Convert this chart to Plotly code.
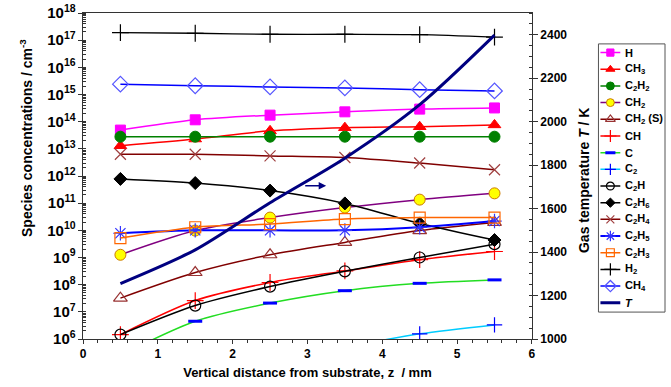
import plotly.graph_objects as go

z = [0.5, 1.5, 2.5, 3.5, 4.5, 5.5]

H = [4.9e13, 1.17e14, 1.74e14, 2.3e14, 2.9e14, 3.2e14]
CH3 = [1.3e13, 2.3e13, 4.6e13, 6.0e13, 6.5e13, 7.6e13]
C2H2 = [2.8e13, 2.8e13, 2.8e13, 2.8e13, 2.8e13, 2.8e13]
CH2 = [1.26e9, 9.8e9, 2.95e10, 6.9e10, 1.35e11, 2.3e11]
CH2S = [3.2e7, 2.8e8, 1.26e9, 3.6e9, 9.8e9, 1.95e10]
CH = [1.45e6, 2.6e7, 1.2e8, 3.2e8, 8.3e8, 1.66e9]
C = [2.5e5, 4.5e6, 2.1e7, 6.0e7, 1.12e8, 1.5e8]
C2 = [5e3, 3e4, 1.6e5, 5e5, 1.55e6, 3.3e6]
C2H = [1.45e6, 1.7e7, 8.5e7, 3.1e8, 1.0e9, 3.1e9]
C2H6 = [7.8e11, 5.5e11, 2.9e11, 9.8e10, 1.8e10, 4.4e9]
C2H4 = [6.3e12, 6.3e12, 5.5e12, 4.8e12, 3.0e12, 1.7e12]
C2H5 = [7.8e9, 1.0e10, 1.0e10, 1.0e10, 1.3e10, 2.2e10]
C2H3 = [5.2e9, 1.3e10, 1.7e10, 2.6e10, 2.95e10, 2.95e10]
H2 = [1.9e17, 1.8e17, 1.65e17, 1.65e17, 1.6e17, 1.3e17]
CH4 = [2.4e15, 2.1e15, 1.9e15, 1.75e15, 1.5e15, 1.35e15]
T = [1255, 1410, 1627, 1832, 2078, 2398]

FONT = "Arial, Liberation Sans, sans-serif"

# name, values, line color, line width, marker symbol, marker size, marker fill, marker line color
species = [
    ("H", H, "#ff00ff", 1.5, "square", 10, "#ff00ff", "#ff00ff"),
    ("CH<sub>3</sub>", CH3, "#ff0000", 1.5, "triangle-up", 11, "#ff0000", "#ff0000"),
    ("C<sub>2</sub>H<sub>2</sub>", C2H2, "#008000", 1.5, "circle", 11, "#008000", "#008000"),
    ("CH<sub>2</sub>", CH2, "#800080", 1.5, "circle", 11, "#ffff00", "#cc7a00"),
    ("CH<sub>2</sub> (S)", CH2S, "#800000", 1.5, "triangle-up-open", 12, "#993333", "#993333"),
    ("CH", CH, "#ff0000", 1.5, "cross-thin-open", 12, "#ff0000", "#ff0000"),
    ("C", C, "#22dd22", 1.5, "line-ew-open", 10, "#0000ff", "#0000ff"),
    ("C<sub>2</sub>", C2, "#00ccff", 1.5, "cross-thin-open", 11, "#0000ff", "#0000ff"),
    ("C<sub>2</sub>H", C2H, "#000000", 1.5, "circle-open", 11, "#000000", "#000000"),
    ("C<sub>2</sub>H<sub>6</sub>", C2H6, "#000000", 1.5, "diamond", 10, "#000000", "#000000"),
    ("C<sub>2</sub>H<sub>4</sub>", C2H4, "#800000", 1.5, "x-thin-open", 11, "#a04040", "#a04040"),
    ("C<sub>2</sub>H<sub>5</sub>", C2H5, "#0000ff", 2, "asterisk-open", 12, "#3333ff", "#3333ff"),
    ("C<sub>2</sub>H<sub>3</sub>", C2H3, "#ff6600", 1.5, "square-open", 11, "#ff6600", "#ff6600"),
    ("H<sub>2</sub>", H2, "#000000", 1.3, "cross-thin-open", 12, "#000000", "#000000"),
    ("CH<sub>4</sub>", CH4, "#0000ff", 1.5, "diamond-open", 12, "#5555ff", "#5555ff"),
]
T_NAME = "<i>T</i>"
T_COLOR = "#000080"

# layout in pixels
W, HGT = 671, 387
L, R, TOP, B = 83, 2, 12, 48
plot_right = 535
legend_box = (602, 669, 43, 312)  # x0, x1, y0(top), y1(bottom) in px
paper_w = W - L - R
paper_h = HGT - TOP - B


def px_x(p):
    return (p - L) / paper_w


def px_y(p):
    return (HGT - B - p) / paper_h


def mline(sym, open_sym):
    if sym.startswith("line"):
        return 3
    return 1.2 if open_sym else 1


fig = go.Figure()
for name, vals, lc, lw, sym, ms, mf, mlc in species:
    fig.add_trace(go.Scatter(
        x=z, y=vals, name=name, mode="lines+markers", showlegend=False,
        line=dict(color=lc, width=lw, shape="spline", smoothing=0.8),
        marker=dict(symbol=sym, size=ms, color=mf,
                    line=dict(color=mlc, width=mline(sym, sym.endswith("-open")))),
    ))

fig.add_trace(go.Scatter(
    x=z, y=T, name=T_NAME, mode="lines", yaxis="y2", showlegend=False,
    line=dict(color=T_COLOR, width=3, shape="spline", smoothing=0.8),
))

# ---- hand-drawn legend (compact, like the reference) ----
lx0, lx1, ly0, ly1 = legend_box
box_w = lx1 - lx0
box_h = ly1 - ly0
row_gap = 16.73
first_row = 8.7
key_x0, key_x1, text_x = 2, 22, 24.5

entries = [(s[0], s[2], s[3], s[4], s[5], s[6], s[7]) for s in species]
entries.append((T_NAME, T_COLOR, 3, None, 0, None, None))
for i, (name, lc, lw, sym, ms, mf, mlc) in enumerate(entries):
    row = first_row + row_gap * i
    fig.add_trace(go.Scatter(
        x=[key_x0, key_x1], y=[row, row], mode="lines", xaxis="x3", yaxis="y3",
        showlegend=False, hoverinfo="skip",
        line=dict(color=lc, width=lw if sym is None else max(lw, 1.5)),
    ))
    if sym is not None:
        fig.add_trace(go.Scatter(
            x=[(key_x0 + key_x1) / 2], y=[row], mode="markers", xaxis="x3", yaxis="y3",
            showlegend=False, hoverinfo="skip",
            marker=dict(symbol=sym, size=ms * 0.72, color=mf,
                        line=dict(color=mlc, width=mline(sym, sym.endswith("-open")))),
        ))
    fig.add_annotation(text=name, x=text_x, y=row, xref="x3", yref="y3",
                       xanchor="left", yanchor="middle", showarrow=False,
                       font=dict(size=11, family=FONT, color="black", weight="bold"))

fig.add_shape(type="rect", xref="x3 domain", yref="y3 domain", x0=0, x1=1, y0=0, y1=1,
              line=dict(color="#555", width=1), fillcolor="rgba(0,0,0,0)", layer="below")

fig.add_annotation(x=3.25, y=11.64, ax=2.95, ay=11.64, xref="x", yref="y",
                   axref="x", ayref="y", showarrow=True, arrowhead=2,
                   arrowsize=1, arrowwidth=1.5, arrowcolor=T_COLOR, text="")

fig.add_annotation(text="Species concentrations / cm<sup>-3</sup>", xref="paper", yref="paper",
                   x=px_x(25), y=px_y(137), textangle=-90, showarrow=False,
                   xanchor="center", yanchor="middle",
                   font=dict(size=14, family=FONT, color="black", weight="bold"))
fig.add_annotation(text="Gas temperature <i>T</i> / K", xref="paper", yref="paper",
                   x=px_x(588), y=px_y(180), textangle=-90, showarrow=False,
                   xanchor="center", yanchor="middle",
                   font=dict(size=14, family=FONT, color="black", weight="bold"))

axis_font = dict(size=12, family=FONT, color="black", weight="bold")

fig.update_layout(
    width=W, height=HGT,
    margin=dict(l=L, r=R, t=TOP, b=B),
    paper_bgcolor="white", plot_bgcolor="white",
    font=dict(family=FONT, color="black"),
    showlegend=False,
    xaxis=dict(domain=[0, px_x(plot_right)], range=[0, 6], dtick=1, tick0=0,
               showline=True, linecolor="#333", linewidth=1,
               mirror=True, ticks="outside", ticklen=4, tickcolor="#333",
               minor=dict(dtick=0.2, ticks="outside", ticklen=3, tickcolor="#333"),
               showgrid=False, zeroline=False, tickfont=axis_font,
               title=dict(text="Vertical distance from substrate, z  / mm", standoff=7,
                          font=dict(size=13, family=FONT, color="black", weight="bold"))),
    yaxis=dict(type="log", range=[6, 18], dtick=1, exponentformat="power",
               showline=True, linecolor="#333", linewidth=1, ticks="outside", ticklen=4,
               tickcolor="#333", minor=dict(dtick="D1", ticks="inside", ticklen=3, tickcolor="#333"),
               showgrid=False, zeroline=False,
               tickfont=dict(size=12, family=FONT, color="black", weight="bold")),
    yaxis2=dict(overlaying="y", side="right", anchor="x", range=[1000, 2500], tick0=1000, dtick=200,
                showline=True, linecolor="#333", linewidth=1, ticks="outside", ticklen=5,
                tickcolor="#333", minor=dict(dtick=50, ticks="inside", ticklen=3, tickcolor="#333"),
                showgrid=False, zeroline=False, tickfont=axis_font),
    xaxis3=dict(domain=[px_x(lx0), px_x(lx1)], range=[0, box_w], anchor="y3",
                visible=False, fixedrange=True),
    yaxis3=dict(domain=[px_y(ly1), px_y(ly0)], range=[box_h, 0], anchor="x3",
                visible=False, fixedrange=True),
)

fig.write_html("out.html")
